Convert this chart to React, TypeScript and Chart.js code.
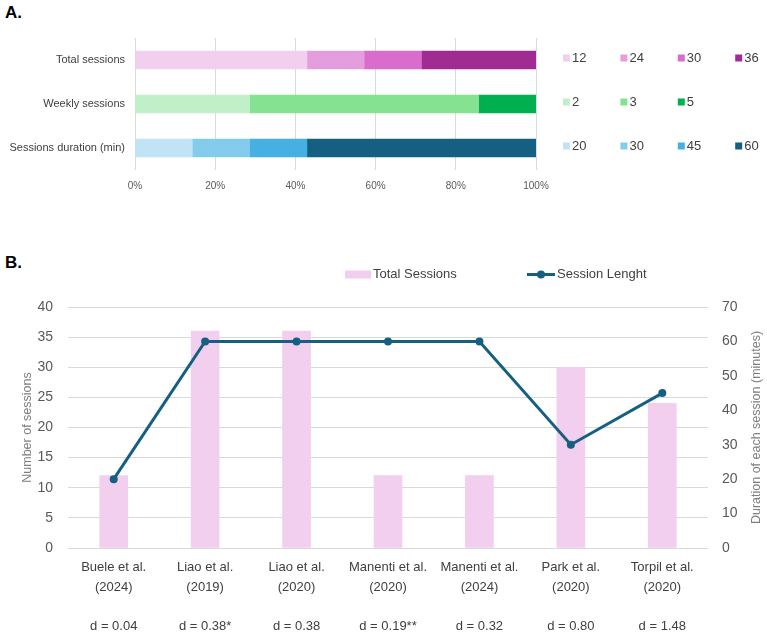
import React, { useEffect, useRef } from 'react';
import { Chart, registerables } from 'chart.js';

Chart.register(...registerables);

const FONT = "'Liberation Sans', Arial, sans-serif";

// ---------- Panel A data ----------
const rowsA = ['Total sessions', 'Weekly sessions', 'Sessions duration (min)'];
const totalSessionsKeys = ['12', '24', '30', '36'];
const totalSessionsPct = [42.86, 14.29, 14.29, 28.57];
const totalSessionsColors = ['#F2CEEF', '#E59EDD', '#D86DCD', '#A02B93'];
const weeklyKeys = ['2', '3', '5'];
const weeklyPct = [28.57, 57.14, 14.29];
const weeklyColors = ['#C1F0C8', '#84E291', '#00B050'];
const durationKeys = ['20', '30', '45', '60'];
const durationPct = [14.29, 14.29, 14.29, 57.14];
const durationColors = ['#C0E4F5', '#83CCEB', '#45B0E1', '#156082'];
const percentTicks = [0, 20, 40, 60, 80, 100];

// ---------- Panel B data ----------
const studyNames = ['Buele et al.', 'Liao et al.', 'Liao et al.', 'Manenti et al.', 'Manenti et al.', 'Park et al.', 'Torpil et al.'];
const studyYears = ['(2024)', '(2019)', '(2020)', '(2020)', '(2024)', '(2020)', '(2020)'];
const effectSizes = ['d = 0.04', 'd = 0.38*', 'd = 0.38', 'd = 0.19**', 'd = 0.32', 'd = 0.80', 'd = 1.48'];
const totalSessions = [12, 36, 36, 12, 12, 30, 24];
const sessionLength = [20, 60, 60, 60, 60, 30, 45];

const legendAPlugin = {
  id: 'legendA',
  afterDraw(chart: any) {
    const ctx = chart.ctx;
    const yScale = chart.scales.y;
    const area = chart.chartArea;
    ctx.save();
    ctx.font = `13px ${FONT}`;
    ctx.textBaseline = 'middle';
    ctx.textAlign = 'left';
    chart.data.datasets.forEach((ds: any) => {
      const y = yScale.getPixelForValue(ds.rowIndex) - 2;
      const x = area.right + 27 + ds.colIndex * 57.4;
      ctx.fillStyle = ds.backgroundColor;
      ctx.fillRect(x, y - 3.5, 7, 7);
      ctx.fillStyle = '#404040';
      ctx.fillText(ds.label, x + 9, y + 0.5);
    });
    ctx.restore();
  },
};

const legendBPlugin = {
  id: 'legendB',
  afterDraw(chart: any) {
    const ctx = chart.ctx;
    const area = chart.chartArea;
    ctx.save();
    ctx.font = `13px ${FONT}`;
    ctx.textBaseline = 'middle';
    ctx.textAlign = 'left';
    const y = 24.5;
    const bar = chart.data.datasets[1];
    const line = chart.data.datasets[0];
    let x = area.left + 277;
    ctx.fillStyle = bar.backgroundColor;
    ctx.fillRect(x, y - 4, 26, 8);
    ctx.fillStyle = '#404040';
    ctx.fillText(bar.label, x + 28, y);
    x = area.left + 459;
    ctx.strokeStyle = line.borderColor;
    ctx.lineWidth = 3;
    ctx.beginPath();
    ctx.moveTo(x, y);
    ctx.lineTo(x + 28, y);
    ctx.stroke();
    ctx.fillStyle = line.borderColor;
    ctx.beginPath();
    ctx.arc(x + 14, y, 4, 0, Math.PI * 2);
    ctx.fill();
    ctx.fillStyle = '#404040';
    ctx.fillText(line.label, x + 30, y);

    // right axis title (reads bottom to top)
    ctx.save();
    ctx.translate(chart.width - 10, (area.top + area.bottom) / 2);
    ctx.rotate(-Math.PI / 2);
    ctx.textAlign = 'center';
    ctx.font = `12.5px ${FONT}`;
    ctx.fillStyle = '#7F7F7F';
    ctx.fillText('Duration of each session (minutes)', 0, 0);
    ctx.restore();
    ctx.restore();
  },
};

function makeRowDatasets(row: number, keys: string[], pct: number[], colors: string[]) {
  return keys.map((k, i) => {
    const data: (number | null)[] = rowsA.map(() => null);
    data[row] = pct[i];
    return {
      label: k,
      data,
      backgroundColor: colors[i],
      borderWidth: 0,
      barThickness: 18,
      rowIndex: row,
      colIndex: i,
    } as any;
  });
}

function PanelA() {
  const ref = useRef<HTMLCanvasElement>(null);
  useEffect(() => {
    const chart = new Chart(ref.current!, {
      type: 'bar',
      data: {
        labels: rowsA,
        datasets: [
          ...makeRowDatasets(0, totalSessionsKeys, totalSessionsPct, totalSessionsColors),
          ...makeRowDatasets(1, weeklyKeys, weeklyPct, weeklyColors),
          ...makeRowDatasets(2, durationKeys, durationPct, durationColors),
        ],
      },
      options: {
        indexAxis: 'y',
        responsive: false,
        animation: false,
        layout: { padding: { top: 38, right: 231, left: 0, bottom: 0 } },
        plugins: { legend: { display: false }, tooltip: { enabled: false } },
        scales: {
          x: {
            stacked: true,
            min: percentTicks[0],
            max: percentTicks[percentTicks.length - 1],
            afterBuildTicks: (s: any) => {
              s.ticks = percentTicks.map((v) => ({ value: v }));
            },
            ticks: {
              callback: (v: any) => v + '%',
              color: '#595959',
              font: { size: 10, family: FONT },
              padding: 10,
            },
            grid: { color: '#D9D9D9', drawTicks: false },
            border: { display: false },
            afterFit: (s: any) => {
              s.height = 30;
            },
          },
          y: {
            stacked: true,
            ticks: { color: '#404040', font: { size: 11, family: FONT }, padding: 10 },
            grid: { display: false, drawTicks: false },
            border: { display: false },
            afterFit: (s: any) => {
              s.width = 135;
            },
          },
        },
      } as any,
      plugins: [legendAPlugin],
    });
    return () => chart.destroy();
  }, []);
  return <canvas ref={ref} width={767} height={200} style={{ position: 'absolute', left: 0, top: 0 }} />;
}

function PanelB() {
  const ref = useRef<HTMLCanvasElement>(null);
  useEffect(() => {
    const labels = studyNames.map((n, i) => [n, studyYears[i], '', effectSizes[i]]);
    const chart = new Chart(ref.current!, {
      type: 'bar',
      data: {
        labels,
        datasets: [
          {
            type: 'line',
            label: 'Session Lenght',
            data: sessionLength,
            yAxisID: 'y1',
            borderColor: '#156082',
            backgroundColor: '#156082',
            borderWidth: 3,
            pointRadius: 4,
            pointBackgroundColor: '#156082',
            pointBorderWidth: 0,
            order: 0,
          },
          {
            type: 'bar',
            label: 'Total Sessions',
            data: totalSessions,
            yAxisID: 'y',
            backgroundColor: '#F2CEEF',
            borderWidth: 0,
            barThickness: 28,
            order: 1,
          },
        ],
      } as any,
      options: {
        responsive: false,
        animation: false,
        layout: { padding: { top: 57, right: 0, left: 0, bottom: 0 } },
        plugins: { legend: { display: false }, tooltip: { enabled: false } },
        scales: {
          x: {
            ticks: {
              color: '#404040',
              font: { size: 13, family: FONT, lineHeight: 1.5 },
              autoSkip: false,
              maxRotation: 0,
              minRotation: 0,
              padding: 10,
            },
            grid: { display: false, drawTicks: false },
            border: { display: false },
            afterFit: (s: any) => {
              s.height = 88;
            },
          },
          y: {
            position: 'left',
            min: 0,
            max: 40,
            ticks: { stepSize: 5, color: '#595959', font: { size: 14, family: FONT }, padding: 15 },
            grid: { color: '#D9D9D9', drawTicks: false },
            border: { display: false },
            title: {
              display: true,
              text: 'Number of sessions',
              color: '#7F7F7F',
              font: { size: 12.5, family: FONT },
              padding: { top: 20, bottom: 0 },
            },
            afterFit: (s: any) => {
              s.width = 68;
            },
          },
          y1: {
            position: 'right',
            min: 0,
            max: 70,
            ticks: { stepSize: 10, color: '#595959', font: { size: 14, family: FONT }, padding: 14 },
            grid: { display: false, drawTicks: false },
            border: { display: false },
            afterFit: (s: any) => {
              s.width = 59;
            },
          },
        },
      } as any,
      plugins: [legendBPlugin],
    });
    return () => chart.destroy();
  }, []);
  return <canvas ref={ref} width={767} height={386} style={{ position: 'absolute', left: 0, top: 250 }} />;
}

const panelLabel: React.CSSProperties = {
  position: 'absolute',
  left: 5,
  fontFamily: FONT,
  fontWeight: 'bold',
  fontSize: 17,
  lineHeight: '16px',
  color: '#000',
};

export default function App() {
  return (
    <div style={{ position: 'fixed', left: 0, top: 0, width: 767, height: 636, background: '#fff', overflow: 'hidden' }}>
      <div style={{ ...panelLabel, top: 5 }}>A.</div>
      <PanelA />
      <div style={{ ...panelLabel, top: 255 }}>B.</div>
      <PanelB />
    </div>
  );
}
